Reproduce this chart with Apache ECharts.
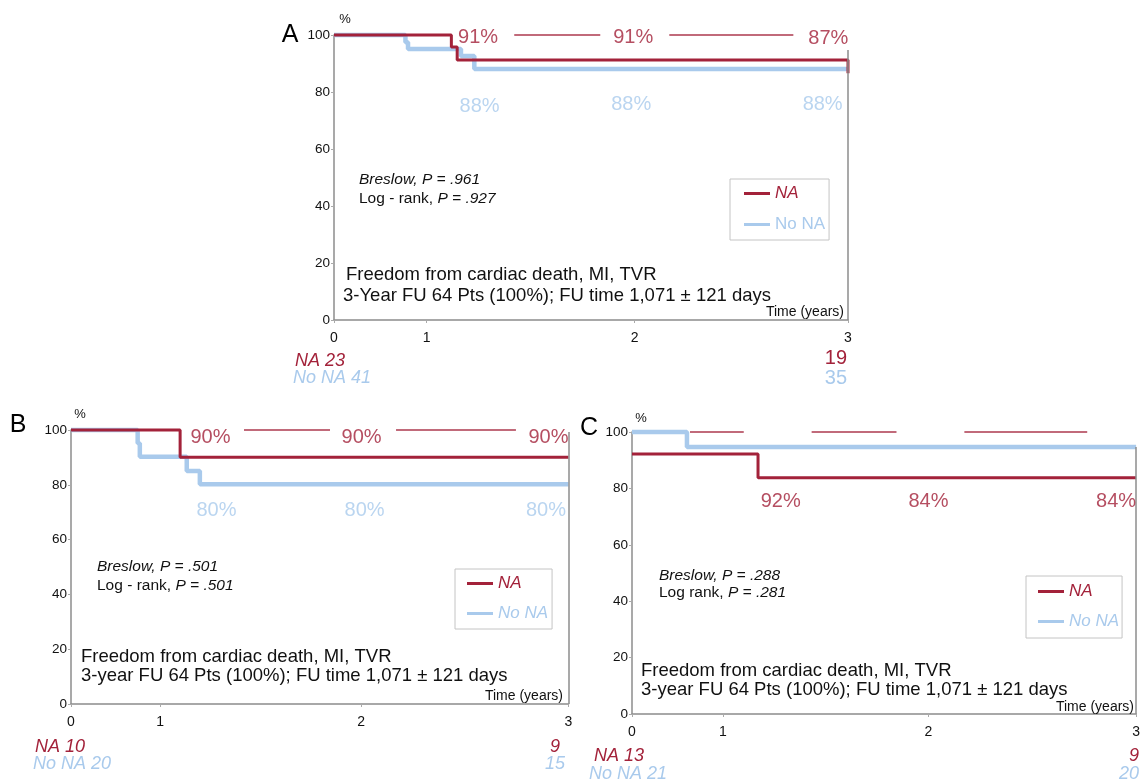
<!DOCTYPE html>
<html>
<head>
<meta charset="utf-8">
<script src="https://cdn.jsdelivr.net/npm/echarts@6/dist/echarts.min.js"></script>
<style>html,body{margin:0;padding:0;background:#fff;}#c{width:1143px;height:782px;}</style>
</head>
<body>
<div id="c"></div>
<script>
// ---------- data ----------
const xTickLabels = ['0', '1', '2', '3'];
const xTickPosA = [0, 0.540, 1.754, 3];
const xTickPosB = [0, 0.537, 1.749, 3];
const xTickPosC = [0, 0.541, 1.764, 3];

// Kaplan-Meier steps: [time (axis units), survival %]
const naA   = [[0, 100], [0.685, 95.8], [0.719, 91.2], [3, 91.2], [3, 86.6]];
const noNaA = [[0, 100], [0.417, 97.5], [0.432, 95.1], [0.741, 92.6], [0.819, 88.1], [3, 88.1]];
const naB   = [[0, 100], [0.658, 90.1], [3, 90.1]];
const noNaB = [[0, 100], [0.402, 95.2], [0.415, 90.2], [0.698, 85.0], [0.777, 80.2], [3, 80.2]];
const naC   = [[0, 92.2], [0.750, 83.8], [3, 83.8]];
const noNaC = [[0, 100], [0.327, 94.7], [3, 94.7]];

// percentage annotations [x, y, text]
const pctNaA   = [[0.841, 99.3, '91%'], [1.746, 99.3, '91%'], [2.885, 98.8, '87%']];
const pctNoNaA = [[0.850, 75.0, '88%'], [1.735, 75.5, '88%'], [2.852, 75.5, '88%']];
const pctNaB   = [[0.841, 97.1, '90%'], [1.752, 97.1, '90%'], [2.879, 97.1, '90%']];
const pctNoNaB = [[0.877, 70.8, '80%'], [1.770, 70.8, '80%'], [2.864, 70.8, '80%']];
const pctNaC   = [[0.885, 75.2, '92%'], [1.764, 75.2, '84%'], [2.881, 75.2, '84%']];
const pctNoNaC = [[0.870, 100.4, '95%'], [1.797, 100.4, '95%'], [2.911, 100.4, '95%']];

// thin reference segments at top [x1, x2, level]
const segA = [[1.052, 1.554, 100], [1.957, 2.681, 100]];
const segB = [[1.043, 1.562, 100], [1.960, 2.683, 100]];
const segC = [[0.345, 0.665, 100], [1.069, 1.574, 100], [1.978, 2.709, 100]];

// right frame top level
const frameTop = [94.7, 99.3, 94.7];

// texts
const panelLetters = ['A', 'B', 'C'];
const breslowP = ['.961', '.501', '.288'];
const logrankP = ['.927', '.501', '.281'];
const logrankName = ['Log - rank', 'Log - rank', 'Log rank'];
const fuLine = ['3-Year FU 64 Pts (100%); FU time 1,071 ± 121 days',
                '3-year FU 64 Pts (100%); FU time 1,071 ± 121 days',
                '3-year FU 64 Pts (100%); FU time 1,071 ± 121 days'];
const riskNA = [23, 10, 13];
const riskNoNA = [41, 20, 21];
const riskNAend = [19, 9, 9];
const riskNoNAend = [35, 15, 20];

// ---------- style ----------
const RED = '#a3223a';
const BLUE = '#a9caec';
const FONT = "'Liberation Sans', Arial, Helvetica, sans-serif";
const AXIS = '#8c8c8c';

const panels = [
  {grid: {left: 334, top: 35, width: 514, height: 285}, ticks: xTickPosA, na: naA, no: noNaA, pNa: pctNaA, pNo: pctNoNaA, seg: segA,
   legend: {left: 730, top: 179, gap: 14, pad: [6, 4, 7, 14]}, noItalic: false},
  {grid: {left: 71, top: 430, width: 497.5, height: 274}, ticks: xTickPosB, na: naB, no: noNaB, pNa: pctNaB, pNo: pctNoNaB, seg: segB,
   legend: {left: 455, top: 569, gap: 13, pad: [6, 4, 7, 12]}, noItalic: true},
  {grid: {left: 632, top: 432, width: 505, height: 282}, ticks: xTickPosC, na: naC, no: noNaC, pNa: pctNaC, pNo: pctNoNaC, seg: segC,
   legend: {left: 1026, top: 576, gap: 13, pad: [7, 3, 8, 12]}, noItalic: true}
];

const grids = panels.map(p => Object.assign({containLabel: false}, p.grid));

const xAxes = panels.map((p, i) => ({
  gridIndex: i, type: 'value', min: 0, max: 3,
  axisLine: {show: true, onZero: false, lineStyle: {color: AXIS, width: 1.5}},
  axisTick: {show: true, customValues: p.ticks, length: 3, lineStyle: {color: '#aaa'}},
  axisLabel: {show: true, customValues: p.ticks, margin: 11, color: '#111', fontSize: 14, fontFamily: FONT,
    formatter: v => { const k = p.ticks.findIndex(t => Math.abs(t - v) < 1e-6); return k >= 0 ? xTickLabels[k] : ''; }},
  splitLine: {show: false}
}));

const yAxes = panels.map((p, i) => ({
  gridIndex: i, type: 'value', min: 0, max: 100, interval: 20,
  axisLine: {show: true, lineStyle: {color: AXIS, width: 1.5}},
  axisTick: {show: true, length: 3, lineStyle: {color: '#aaa'}},
  axisLabel: {margin: 4, color: '#111', fontSize: 13.5, fontFamily: FONT},
  splitLine: {show: false}
}));

const series = [];
panels.forEach((p, i) => {
  series.push({
    name: 'No NA', type: 'line', xAxisIndex: i, yAxisIndex: i, data: p.no, step: 'end',
    showSymbol: false, symbol: 'none', clip: false, z: 3,
    lineStyle: {color: BLUE, width: 4.5}, itemStyle: {color: BLUE}
  });
  series.push({
    name: 'NA', type: 'line', xAxisIndex: i, yAxisIndex: i, data: p.na, step: 'end',
    showSymbol: false, symbol: 'none', clip: false, z: 4,
    lineStyle: {color: RED, width: 3}, itemStyle: {color: RED},
    markLine: {silent: true, symbol: 'none', label: {show: false}, z: 5,
      lineStyle: {color: RED, width: 1.5, type: 'solid', opacity: 0.9},
      emphasis: {disabled: true},
      data: p.seg.map(s => [{coord: [s[0], s[2]]}, {coord: [s[1], s[2]]}])}
  });
  series.push({
    name: 'frame' + i, type: 'line', xAxisIndex: i, yAxisIndex: i, data: [], silent: true,
    markLine: {silent: true, symbol: 'none', label: {show: false},
      lineStyle: {color: AXIS, width: 1.5, type: 'solid'},
      data: [[{coord: [3, frameTop[i]]}, {coord: [3, 0]}]]}
  });
  [[p.pNa, RED], [p.pNo, BLUE]].forEach(([arr, col]) => {
    series.push({
      name: 'lbl', type: 'scatter', xAxisIndex: i, yAxisIndex: i, data: arr, symbolSize: 0, silent: true, z: 6,
      label: {show: true, position: 'inside', formatter: q => q.value[2], color: col, fontSize: 20, fontFamily: FONT}
    });
  });
});

const legends = panels.map((p, i) => ({
  orient: 'vertical', left: p.legend.left, top: p.legend.top, itemGap: p.legend.gap, padding: p.legend.pad,
  borderColor: '#c4c4c4', borderWidth: 1, icon: 'rect', itemWidth: 26, itemHeight: 3,
  selectedMode: false,
  textStyle: {fontSize: 17, fontFamily: FONT},
  data: [
    {name: 'NA', itemStyle: {color: RED}, textStyle: {color: RED, fontStyle: 'italic', fontSize: 17, fontFamily: FONT}},
    {name: 'No NA', itemStyle: {color: BLUE}, textStyle: {color: BLUE, fontStyle: p.noItalic ? 'italic' : 'normal', fontSize: 17, fontFamily: FONT}}
  ]
}));

// free text annotations (pixel placed)
function txt(x, y, text, o) {
  o = o || {};
  return {type: 'text', x: x, y: y, silent: true, z: 10,
    style: {text: text, fill: o.color || '#111', fontSize: o.size || 14, fontFamily: FONT,
      fontStyle: o.italic ? 'italic' : 'normal', align: o.align || 'left', verticalAlign: 'middle',
      rich: o.rich}};
}
const richPV = {i: {fontStyle: 'italic', fontSize: 15.5, fontFamily: FONT, fill: '#111'}, n: {fontSize: 15.5, fontFamily: FONT, fill: '#111'}};

const textPos = [
  {letter: [290, 35], pct: [345, 19], bres: [359, 180], log: [359, 199], fr: [346, 275], fu: [343, 296], time: [844, 312],
   na: [295, 361], no: [293, 378], naE: [847, 358], noE: [847, 378], endItalic: false, endSize: 20},
  {letter: [18, 425], pct: [80, 414], bres: [97, 567], log: [97, 586], fr: [81, 657], fu: [81, 676], time: [563, 696],
   na: [35, 747], no: [33, 764], naE: [560, 747], noE: [565, 764], endItalic: true, endSize: 18},
  {letter: [589, 428], pct: [641, 418], bres: [659, 576], log: [659, 593], fr: [641, 671], fu: [641, 690], time: [1134, 707],
   na: [594, 756], no: [589, 774], naE: [1139, 756], noE: [1139, 774], endItalic: true, endSize: 18}
];

const graphics = [];
textPos.forEach((t, i) => {
  graphics.push(txt(t.letter[0], t.letter[1], panelLetters[i], {size: 25, align: 'center', color: '#000'}));
  graphics.push(txt(t.pct[0], t.pct[1], '%', {size: 13, align: 'center'}));
  graphics.push(txt(t.bres[0], t.bres[1], '{i|Breslow, P = ' + breslowP[i] + '}', {rich: richPV}));
  graphics.push(txt(t.log[0], t.log[1], '{n|' + logrankName[i] + ', }{i|P = ' + logrankP[i] + '}', {rich: richPV}));
  graphics.push(txt(t.fr[0], t.fr[1], 'Freedom from cardiac death, MI, TVR', {size: 18.5}));
  graphics.push(txt(t.fu[0], t.fu[1], fuLine[i], {size: 18.5}));
  graphics.push(txt(t.time[0], t.time[1], 'Time (years)', {size: 14, align: 'right'}));
  graphics.push(txt(t.na[0], t.na[1], 'NA ' + riskNA[i], {size: 18, italic: true, color: RED}));
  graphics.push(txt(t.no[0], t.no[1], 'No NA ' + riskNoNA[i], {size: 18, italic: true, color: BLUE}));
  graphics.push(txt(t.naE[0], t.naE[1], String(riskNAend[i]), {size: t.endSize, italic: t.endItalic, color: RED, align: 'right'}));
  graphics.push(txt(t.noE[0], t.noE[1], String(riskNoNAend[i]), {size: t.endSize, italic: t.endItalic, color: BLUE, align: 'right'}));
});

const chart = echarts.init(document.getElementById('c'), null, {renderer: 'canvas'});
chart.setOption({
  animation: false,
  backgroundColor: '#fff',
  grid: grids,
  xAxis: xAxes,
  yAxis: yAxes,
  legend: legends,
  series: series,
  graphic: graphics
});
</script>
</body>
</html>
